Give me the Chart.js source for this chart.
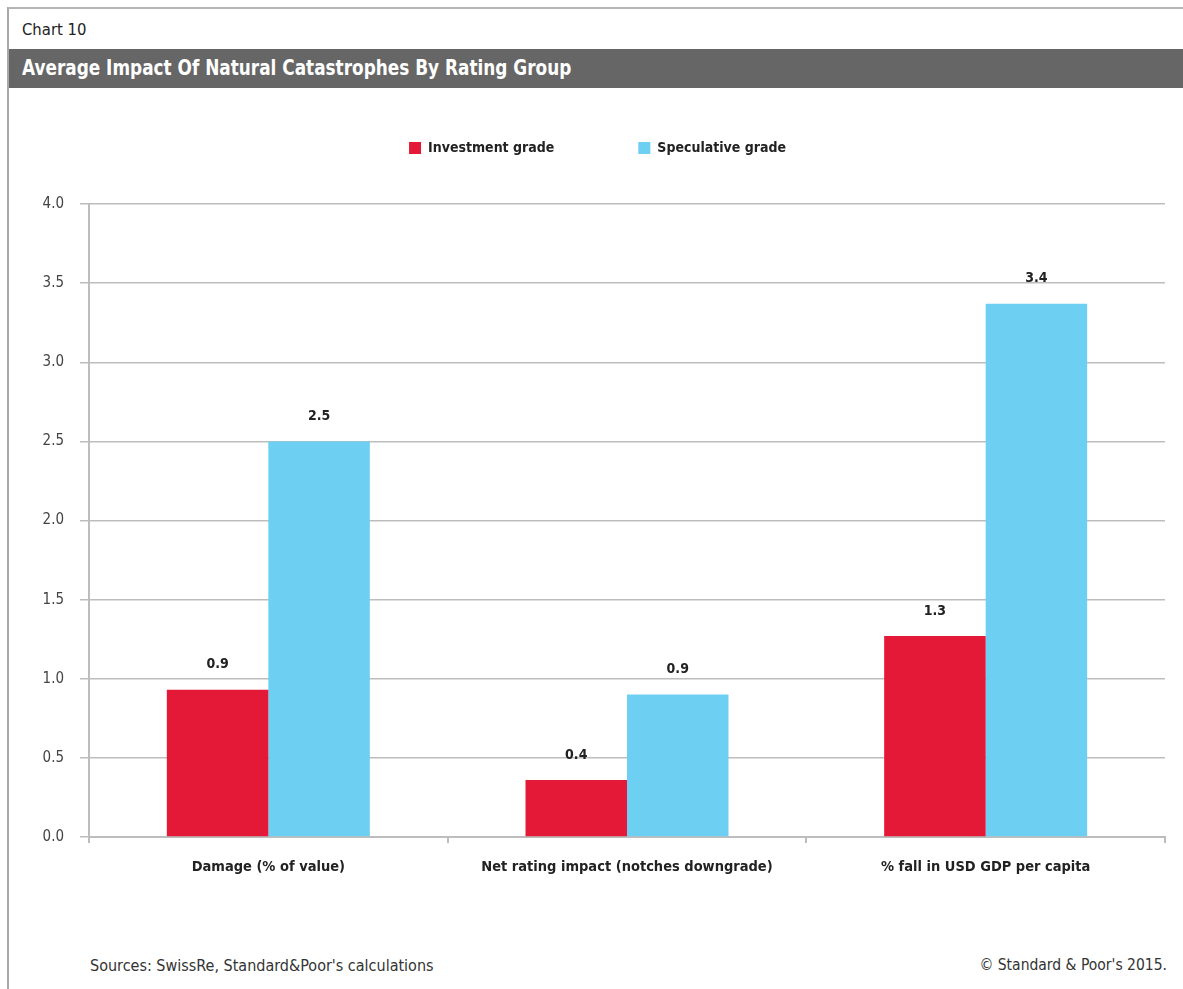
<!DOCTYPE html>
<html>
<head>
<meta charset="utf-8">
<script src="https://cdn.jsdelivr.net/npm/chart.js@4"></script>
<style>
  html, body { margin: 0; padding: 0; background: #fff; }
  body { width: 1183px; height: 989px; position: relative; overflow: hidden;
         font-family: "Liberation Sans Narrow", "DejaVu Sans Condensed", Roboto, sans-serif; }
  .frame { position: absolute; left: 7px; top: 7px; right: 0; bottom: 0;
           border-top: 2px solid #b5b5b5; border-left: 2px solid #a8a8a8; }
  .chart-no { position: absolute; left: 22px; top: 20px; font-size: 16.5px; color: #222; }
  .title-bar { position: absolute; left: 9px; right: 0; top: 49px; height: 39px; background: #666;
               color: #fff; font-weight: bold; font-size: 21px; line-height: 39px; padding-left: 13px; }
  .title-bar span { display: inline-block; transform: scaleX(0.895); transform-origin: left center; white-space: nowrap; }
  #wrap { position: absolute; left: 10px; top: 57px; width: 1173px; height: 823px; }
  .src { position: absolute; left: 90px; top: 956px; font-size: 16px; color: #333; }
  .copy { position: absolute; right: 16px; top: 956px; font-size: 15.5px; color: #333; }
</style>
</head>
<body>
<div class="frame"></div>
<div class="chart-no">Chart 10</div>
<div class="title-bar"><span>Average Impact Of Natural Catastrophes By Rating Group</span></div>
<div id="wrap"><canvas id="cat-chart"></canvas></div>
<div class="src">Sources: SwissRe, Standard&amp;Poor's calculations</div>
<div class="copy">© Standard &amp; Poor's 2015.</div>

<script>
'use strict';

const CATEGORIES  = ['Damage (% of value)', 'Net rating impact (notches downgrade)', '% fall in USD GDP per capita'];
const INVESTMENT  = [0.93, 0.36, 1.27];
const SPECULATIVE = [2.50, 0.90, 3.37];
const Y_MAX  = 4.0;
const Y_STEP = 0.5;

const FONT = '"Liberation Sans Narrow", "DejaVu Sans Condensed", Roboto, sans-serif';
const C_INV  = '#e31937';
const C_SPEC = '#6dcff2';
const C_GRID = '#bdbdbd';

/* legend の下に余白を足して描画領域を押し下げ、少し右へ寄せる */
const legendGap = {
  id: 'legendGap',
  beforeInit(chart) {
    const fit = chart.legend.fit;
    chart.legend.fit = function () {
      fit.call(this);
      this.height += 39;
    };
  },
  afterLayout(chart) {
    chart.legend.left += 10;
    chart.legend.right += 10;
  }
};

/* 棒の上に値ラベル */
const barValues = {
  id: 'barValues',
  afterDatasetsDraw(chart) {
    const ctx = chart.ctx;
    ctx.save();
    ctx.font = 'bold 14px ' + FONT;
    ctx.fillStyle = '#222';
    ctx.textAlign = 'center';
    ctx.textBaseline = 'middle';
    chart.data.datasets.forEach((ds, di) => {
      chart.getDatasetMeta(di).data.forEach((bar, i) => {
        ctx.fillText(ds.data[i].toFixed(1), bar.x, bar.y - 25);
      });
    });
    ctx.restore();
  }
};

new Chart(document.getElementById('cat-chart'), {
  type: 'bar',
  data: {
    labels: CATEGORIES,
    datasets: [
      { label: 'Investment grade',  data: INVESTMENT,  backgroundColor: C_INV },
      { label: 'Speculative grade', data: SPECULATIVE, backgroundColor: C_SPEC },
    ],
  },
  options: {
    responsive: true,
    maintainAspectRatio: false,
    animation: false,
    categoryPercentage: 0.566,
    barPercentage: 1.0,
    layout: { padding: { left: 0, right: 18, top: 0, bottom: 0 } },
    plugins: {
      legend: {
        position: 'top',
        labels: {
          boxWidth: 12, boxHeight: 12, padding: 84,
          color: '#222',
          font: { family: FONT, size: 14, weight: 'bold' },
        },
      },
      tooltip: { enabled: false },
    },
    scales: {
      x: {
        offset: true,
        grid: { offset: true, drawOnChartArea: false, drawTicks: true, tickLength: 6, color: C_GRID, lineWidth: 2 },
        border: { color: C_GRID, width: 2 },
        ticks: { color: '#222', padding: 16, font: { family: FONT, size: 14.5, weight: 'bold' }, maxRotation: 0 },
        afterFit(s) { s.height = 43; },
      },
      y: {
        min: 0, max: Y_MAX,
        ticks: {
          stepSize: Y_STEP, color: '#444', padding: 16,
          font: { family: FONT, size: 15 },
          callback: v => Number(v).toFixed(1),
        },
        grid: { color: C_GRID, lineWidth: 1.5, tickLength: 9 },
        border: { color: C_GRID, width: 2 },
        afterFit(s) { s.width = 79; },
      },
    },
  },
  plugins: [legendGap, barValues],
});
</script>
</body>
</html>
